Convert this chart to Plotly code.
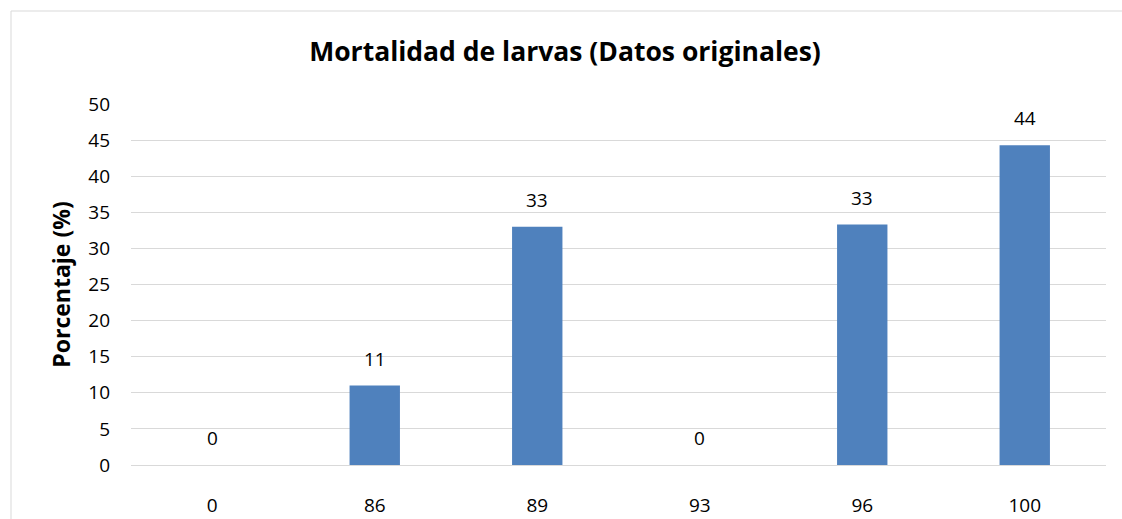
import plotly.graph_objects as go

categories = ["0", "86", "89", "93", "96", "100"]
values = [0, 11.0, 33.0, 0, 33.3, 44.3]
labels = ["0", "11", "33", "0", "33", "44"]

W, H = 1122, 519
L, R, T, B = 131, 16, 104, 54
pw, ph = W - L - R, H - T - B

fig = go.Figure()
fig.add_trace(go.Bar(x=categories, y=values, marker=dict(color="#4F81BD", line=dict(width=0)),
                     width=0.31, hoverinfo="skip"))

for i, (v, t) in enumerate(zip(values, labels)):
    fig.add_annotation(x=i, y=v, text=t, showarrow=False, yanchor="bottom", yshift=12,
                       font=dict(size=19, color="#000000"))

def px_x(p):
    return (p - L) / pw

def px_y(p):
    return (H - B - p) / ph

fig.add_shape(type="rect", xref="paper", yref="paper",
              x0=px_x(11), x1=px_x(1130), y0=px_y(530), y1=px_y(11),
              line=dict(color="#D9D9D9", width=1), fillcolor="rgba(0,0,0,0)", layer="below")

fig.update_layout(
    width=W, height=H,
    margin=dict(l=L, r=R, t=T, b=B, autoexpand=False),
    paper_bgcolor="white", plot_bgcolor="white",
    font=dict(family="Open Sans, Noto Sans, sans-serif", size=16, color="#000000"),
    title=dict(text="<b>Mortalidad de larvas (Datos originales)</b>", x=565 / W, xref="container",
               y=1 - 52 / H, yref="container", yanchor="middle", xanchor="center",
               font=dict(size=26.5, color="#000000")),
    showlegend=False,
    bargap=0.69,
    xaxis=dict(type="category", showgrid=False, showline=False, zeroline=False,
               range=[-0.5, 5.5],
               ticks="", ticklabelstandoff=27, tickfont=dict(size=19)),
    yaxis=dict(range=[0, 50], dtick=5, tick0=0, showgrid=True, gridcolor="#D9D9D9", gridwidth=1,
               zeroline=True, zerolinecolor="#D9D9D9", zerolinewidth=1, showline=False,
               ticks="", ticklabelstandoff=20, tickfont=dict(size=19),
               title=dict(text="<b>Porcentaje (%)</b>", font=dict(size=23), standoff=11)),
)

fig.write_html("out.html", config={"displayModeBar": False},
               post_script="document.body.style.margin='0';document.body.style.overflow='hidden';")
